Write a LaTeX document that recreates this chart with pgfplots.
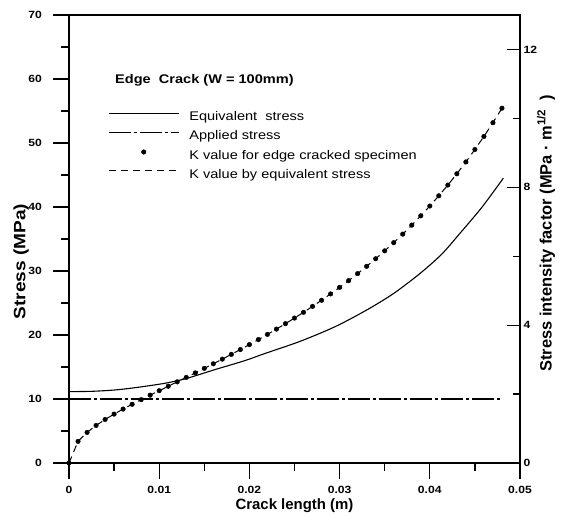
\documentclass[border=0pt]{standalone}
\usepackage{pgfplots}
\pgfplotsset{compat=1.18}
\usepackage{fontspec}
\setmainfont{Liberation Sans}
\newfontfamily\wide[FakeStretch=1.16]{Liberation Sans}
\pgfplotstableread{
a K
0 0
0.001 0.627
0.002 0.887
0.003 1.089
0.004 1.263
0.005 1.419
0.006 1.565
0.007 1.704
0.008 1.838
0.009 1.969
0.010 2.098
0.011 2.227
0.012 2.355
0.013 2.484
0.014 2.614
0.015 2.746
0.016 2.879
0.017 3.014
0.018 3.152
0.019 3.293
0.020 3.436
0.021 3.582
0.022 3.732
0.023 3.886
0.024 4.044
0.025 4.206
0.026 4.373
0.027 4.545
0.028 4.723
0.029 4.906
0.030 5.096
0.031 5.292
0.032 5.496
0.033 5.707
0.034 5.927
0.035 6.156
0.036 6.394
0.037 6.642
0.038 6.902
0.039 7.173
0.040 7.457
0.041 7.754
0.042 8.066
0.043 8.393
0.044 8.736
0.045 9.097
0.046 9.476
0.047 9.875
0.048 10.295
}\Kdata
\pgfplotstableread{
a s
0 11.15
0.0025 11.2
0.005 11.4
0.0075 11.8
0.0106 12.45
0.013 13.2
0.0162 14.6
0.0195 16.0
0.0217 17.1
0.0256 19.0
0.0295 21.3
0.033 23.9
0.036 26.5
0.0389 29.6
0.0413 32.6
0.04335 35.9
0.0458 40.0
0.04815 44.5
}\Eqdata
\pgfplotsset{
  lineleg/.style={legend image code/.code={\draw[##1] (0bp,4.5bp) -- (70bp,4.5bp); \path (0bp,0bp) (80bp,0bp);}},
  dotleg/.style={legend image code/.code={\draw[##1] plot coordinates {(35bp,4.5bp)}; \path (0bp,0bp) (80bp,0bp);}},
  common/.style={
    scale only axis, width=451bp, height=448bp,
    xmin=0, xmax=0.05,
    /pgf/number format/assume math mode=true,
    tick label style={font=\wide\fontsize{10.5}{12}\selectfont\bfseries},
    axis line style={line width=1.6bp},
    every tick/.style={line width=1.3bp, black},
    label style={font=\fontsize{15}{17}\selectfont\bfseries},
  }
}
\begin{document}
\begin{tikzpicture}
\begin{axis}[common, at={(0,0)}, anchor=south west,
  ymin=0, ymax=70,
  xtick={0,0.01,0.02,0.03,0.04,0.05},
  xticklabels={0,0.01,0.02,0.03,0.04,0.05},
  scaled x ticks=false,
  minor x tick num=1,
  ytick={0,10,...,70},
  minor y tick num=1,
  tick align=outside,
  major tick length=15.5bp, minor tick length=8bp,
  xtick pos=bottom, ytick pos=left,
  yticklabel style={xshift=-8bp},
  xticklabel style={yshift=-4bp},
  xlabel={Crack length (m)}, ylabel={Stress (MPa)},
  xlabel style={at={(axis description cs:0.5,-0.096)}, anchor=center},
  ylabel style={at={(axis description cs:-0.1064,0.45)}, anchor=center, font=\wide\fontsize{16.5}{18}\selectfont\bfseries},
]
\addplot[black, line width=1.1bp, smooth] table[x=a, y=s] {\Eqdata};
\addplot[black, line width=1.1bp, dash pattern=on 22bp off 3bp on 3bp off 3bp] coordinates {(0,10) (0.048,10)};
\end{axis}
\begin{axis}[common, at={(0,0)}, anchor=south west,
  ymin=0, ymax=13,
  axis x line=none, axis y line*=right,
  ytick={0,4,8,12}, minor ytick={2,6,10},
  tick align=inside, ytick pos=right,
  major tick length=13bp, minor tick length=7bp,
  ylabel={Stress intensity factor (MPa \textperiodcentered\ m\textsuperscript{1/2}\ \ )},
  ylabel style={at={(axis description cs:1.0576,0.513)}, anchor=center, font=\fontsize{16.5}{18}\selectfont\bfseries},
  legend style={draw=none, fill=none, at={(axis description cs:0,1)}, anchor=north west,
    xshift=39bp, yshift=-96.5bp, inner sep=0pt, row sep=7bp,
    nodes={inner sep=0pt, text height=9bp, text depth=3bp, font=\wide\fontsize{12.6}{15}\selectfont}},
  legend cell align=left,
]
\addlegendimage{black, line width=1.1bp, lineleg}
\addlegendentry{Equivalent\ \ stress}
\addlegendimage{black, line width=1.1bp, dash pattern=on 22bp off 3bp on 3bp off 3bp, lineleg}
\addlegendentry{Applied stress}
\addplot[black, only marks, mark=*, mark size=2.3bp, dotleg] table[x=a, y=K] {\Kdata};
\addlegendentry{K value for edge cracked specimen}
\addplot[black, line width=1bp, dash pattern=on 7bp off 5bp, lineleg] table[x=a, y=K] {\Kdata};
\addlegendentry{K value by equivalent stress}
\node[anchor=base west, font=\wide\fontsize{12.6}{15}\selectfont\bfseries] at ([xshift=42.7bp, yshift=-68.3bp]axis description cs:0,1) {Edge\ \ Crack (W = 100mm)};
\end{axis}
\pgfresetboundingbox
\path[use as bounding box] (-69bp,-56bp) rectangle (504bp,463bp);
\end{tikzpicture}
\end{document}
